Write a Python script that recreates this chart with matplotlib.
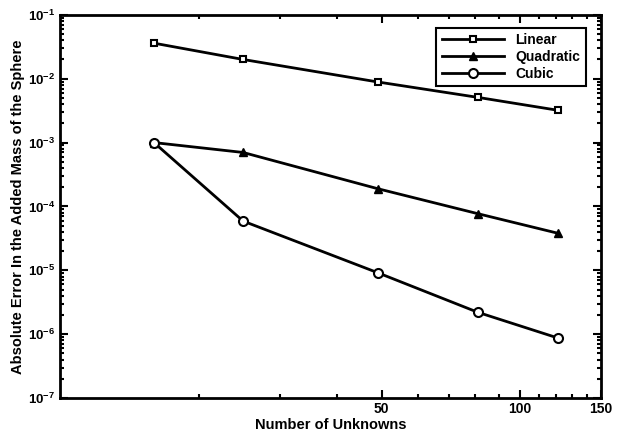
import matplotlib.pyplot as plt
from matplotlib.ticker import FixedLocator, NullFormatter, LogFormatterMathtext

plt.rcParams['font.family'] = ['Liberation Sans', 'DejaVu Sans']
plt.rcParams['font.weight'] = 'bold'
plt.rcParams['mathtext.default'] = 'bf'

# number of unknowns and absolute error in the added mass
unknowns = [16, 25, 49, 81, 121]
linear = [3.6e-2, 2.0e-2, 8.9e-3, 5.1e-3, 3.2e-3]
quadratic = [1.0e-3, 7.0e-4, 1.9e-4, 7.7e-5, 3.8e-5]
cubic = [1.0e-3, 5.9e-5, 9.2e-6, 2.2e-6, 8.7e-7]

x_labels = ['50', '100', '150']
x_major = [50, 100, 150]
x_minor = [20, 30, 40, 60, 70, 80, 90, 110, 120, 130, 140]
decades = [1e-7, 1e-6, 1e-5, 1e-4, 1e-3, 1e-2, 1e-1]

fig = plt.figure(figsize=(6.26, 4.36), dpi=100)
ax = fig.add_axes([0.096, 0.087, 0.864, 0.879])

ax.plot(unknowns, linear, color='black', lw=2, marker='s', ms=4.5,
        mfc='white', mec='black', mew=1.5, label='Linear')
ax.plot(unknowns, quadratic, color='black', lw=2, marker='^', ms=5.5,
        mfc='black', mec='black', label='Quadratic')
ax.plot(unknowns, cubic, color='black', lw=2, marker='o', ms=6.5,
        mfc='white', mec='black', mew=1.5, label='Cubic')

ax.set_xscale('log')
ax.set_yscale('log')
ax.set_xlim(10, 150)
ax.set_ylim(1e-7, 1e-1)

ax.xaxis.set_major_locator(FixedLocator(x_major))
ax.xaxis.set_major_formatter(plt.FixedFormatter(x_labels))
ax.xaxis.set_minor_locator(FixedLocator(x_minor))
ax.xaxis.set_minor_formatter(NullFormatter())

y_minor = [m * d for d in decades[:-1] for m in range(2, 10)]
ax.yaxis.set_major_locator(FixedLocator(decades))
ax.yaxis.set_major_formatter(LogFormatterMathtext())
ax.yaxis.set_minor_locator(FixedLocator(y_minor))
ax.yaxis.set_minor_formatter(NullFormatter())

ax.tick_params(which='both', direction='in', top=True, right=True, width=1.5)
ax.tick_params(which='major', length=6)
ax.tick_params(axis='x', which='major', labelsize=10, pad=3)
ax.tick_params(axis='y', which='major', labelsize=9.5)
ax.tick_params(which='minor', length=3)
for s in ax.spines.values():
    s.set_linewidth(2)

ax.set_xlabel('Number of Unknowns', fontsize=10.5, fontweight='bold', labelpad=1)
ax.set_ylabel('Absolute Error In the Added Mass of the Sphere', fontsize=10.5,
              fontweight='bold', labelpad=2)

leg = ax.legend(loc='upper right', bbox_to_anchor=(0.985, 0.985), fontsize=10,
                handlelength=4.5, fancybox=False, edgecolor='black',
                framealpha=1, borderpad=0.4, labelspacing=0.2)
leg.get_frame().set_linewidth(1.5)

fig.savefig('out.png', dpi=100)
